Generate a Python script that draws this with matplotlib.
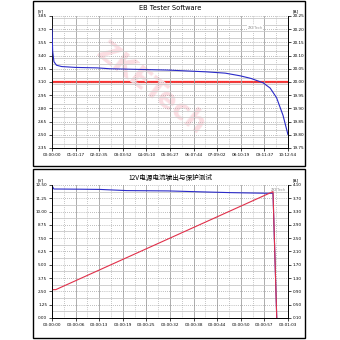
import matplotlib
matplotlib.use('Agg')
import matplotlib.pyplot as plt
from matplotlib.patches import Rectangle
from matplotlib.ticker import MultipleLocator

plt.rcParams['font.family'] = ['DejaVu Sans', 'Noto Sans CJK SC']

# top chart: battery discharge, time in seconds
top_title = 'EB Tester Software'
top_t = [0, 100, 300, 700, 1500, 3700, 7000, 9000, 12000, 15000, 18000,
         21000, 24000, 27000, 29300, 31000, 32900, 34000, 35000, 36000, 36600, 36774]
top_v = [3.70, 3.45, 3.33, 3.29, 3.275, 3.265, 3.26, 3.25, 3.245, 3.24, 3.235,
         3.225, 3.215, 3.20, 3.17, 3.14, 3.09, 3.03, 2.92, 2.72, 2.55, 2.50]
top_a = [20.0] * len(top_t)
top_xlabels = ['00:00:00', '01:01:17', '02:02:35', '03:03:52', '04:05:10', '05:06:27',
               '06:07:44', '07:09:02', '08:10:19', '09:11:37', '10:12:54']
top_vticks = [3.85, 3.70, 3.55, 3.40, 3.25, 3.10, 2.95, 2.80, 2.65, 2.50, 2.35]
top_aticks = [20.25, 20.20, 20.15, 20.10, 20.05, 20.00, 19.95, 19.90, 19.85, 19.80, 19.75]

# bottom chart: 12V supply test, time in seconds
bot_title = '12V电源电流输出与保护测试'
bot_v_t = [0, 0.5, 8, 12.8, 20, 31, 40, 47.5, 57.4, 59.0, 60.0]
bot_v = [12.43, 12.12, 12.10, 12.08, 11.97, 11.94, 11.85, 11.78, 11.72, 11.72, 0.0]
bot_a_t = [0, 1.0, 59.0, 60.0]
bot_a = [0.95, 0.95, 3.90, 0.10]
bot_xlabels = ['00:00:00', '00:00:06', '00:00:13', '00:00:19', '00:00:25', '00:00:32',
               '00:00:38', '00:00:44', '00:00:50', '00:00:57', '00:01:03']
bot_vticks = [12.50, 11.25, 10.00, 8.75, 7.50, 6.25, 5.00, 3.75, 2.50, 1.25, 0.00]
bot_aticks = [4.10, 3.70, 3.30, 2.90, 2.50, 2.10, 1.70, 1.30, 0.90, 0.50, 0.10]

fs = 3.0


def setup(ax, ax2, tmax, xlabels, vticks, aticks):
    n = len(xlabels) - 1
    ax.set_xlim(0, tmax)
    ax.set_xticks([tmax * i / n for i in range(n + 1)])
    ax.set_xticklabels(xlabels)
    ax.xaxis.set_minor_locator(MultipleLocator(tmax / n / 2))
    ax.set_ylim(min(vticks), max(vticks))
    ax.set_yticks(vticks)
    ax.set_yticklabels(['%.2f' % v for v in vticks])
    ax.yaxis.set_minor_locator(MultipleLocator((vticks[0] - vticks[1]) / 2))
    ax2.set_ylim(min(aticks), max(aticks))
    ax2.set_yticks(aticks)
    ax2.set_yticklabels(['%.2f' % a for a in aticks])
    ax.grid(True, which='major', axis='x', color='#a0a0a0', lw=0.6)
    ax.grid(True, which='minor', axis='x', color='#909090', lw=0.5, ls=(0, (1, 2)))
    ax.grid(True, which='major', axis='y', color='#808080', lw=0.5, ls=(0, (1, 2)))
    ax.grid(True, which='minor', axis='y', color='#c8c8c8', lw=0.6)
    for a in (ax, ax2):
        a.spines['top'].set_visible(False)
        for s in a.spines.values():
            s.set_linewidth(0.6)
        a.tick_params(which='major', labelsize=fs, length=2, width=0.5, pad=1.5)
        a.tick_params(which='minor', length=0)
    ax.set_axisbelow(True)
    ax.text(-0.06, 1.03, '[V]', transform=ax.transAxes, fontsize=fs)
    ax.text(1.02, 1.03, '[A]', transform=ax.transAxes, fontsize=fs)


fig = plt.figure(figsize=(3.4, 3.4), dpi=100)
fig.patches.append(Rectangle((0.097, 0.512), 0.8, 0.485, transform=fig.transFigure,
                             fill=False, edgecolor='black', lw=1.0))
fig.patches.append(Rectangle((0.097, 0.006), 0.8, 0.497, transform=fig.transFigure,
                             fill=False, edgecolor='black', lw=1.0))

ax1 = fig.add_axes([0.153, 0.565, 0.694, 0.388])
ax1b = ax1.twinx()
setup(ax1, ax1b, top_t[-1], top_xlabels, top_vticks, top_aticks)
ax1.text(0.42, 0.45, 'ZKETech', transform=ax1.transAxes, fontsize=20, color='#fbdde2',
         rotation=-38, ha='center', va='center', fontweight='bold', zorder=0)
ax1b.plot(top_t, top_a, color='#ff3030', lw=1.6)
ax1.plot(top_t, top_v, color='#2a2ac8', lw=0.8, zorder=5)
ax1.set_zorder(ax1b.get_zorder() + 1)
ax1.patch.set_visible(False)
ax1.text(0.86, 0.91, 'ZKETech', transform=ax1.transAxes, fontsize=2.6, color='#999999',
         ha='center', va='center',
         bbox=dict(facecolor='white', edgecolor='none', pad=0.3))
fig.text(0.5, 0.975, top_title, fontsize=4.8, ha='center', va='center')

ax2 = fig.add_axes([0.153, 0.065, 0.694, 0.391])
ax2b = ax2.twinx()
setup(ax2, ax2b, 63, bot_xlabels, bot_vticks, bot_aticks)
ax2.plot(bot_v_t, bot_v, color='#2a2ac8', lw=0.8)
ax2b.plot(bot_a_t, bot_a, color='#e0304a', lw=0.8)
ax2b.text(0.96, 0.96, 'ZKETech', transform=ax2.transAxes, fontsize=2.6, color='#999999',
          ha='center', va='center')
fig.text(0.5, 0.477, bot_title, fontsize=4.8, ha='center', va='center',
         family=['Noto Sans CJK SC', 'DejaVu Sans'])

fig.savefig('out.png', dpi=100)
